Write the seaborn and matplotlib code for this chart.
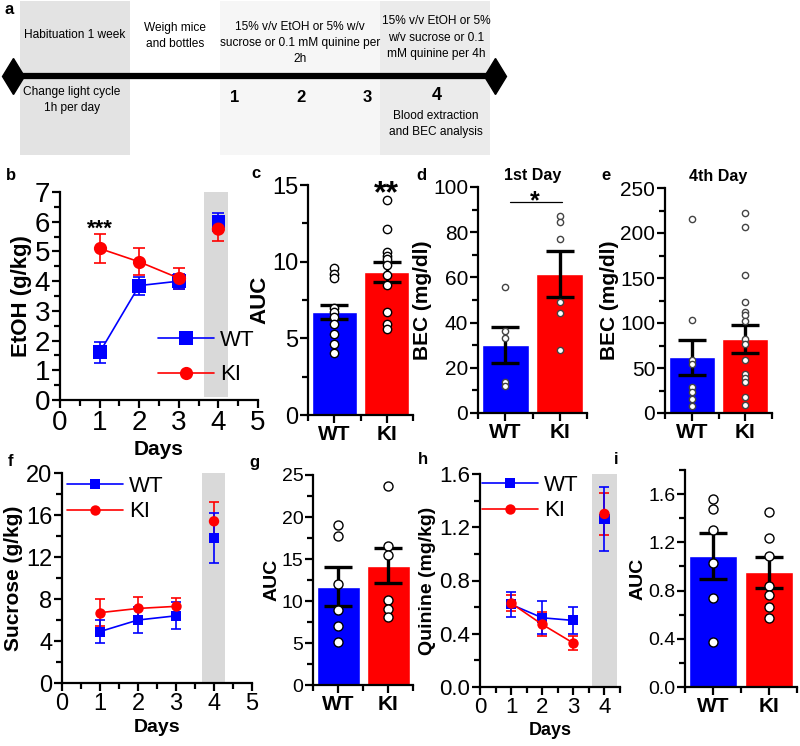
import pandas as pd
import seaborn as sns
import matplotlib
matplotlib.use("Agg")
from matplotlib import pyplot as plt
from matplotlib.lines import Line2D
from matplotlib.patches import Rectangle
from matplotlib.ticker import MultipleLocator, FixedLocator

W, H = 800, 746
BLUE, RED = "#0000ff", "#ff0000"
genotypes = ["WT", "KI"]
days = [1, 2, 3, 4]

# timeline (panel a)
stage_top = ["Habituation 1 week", "Weigh mice\nand bottles",
             "15% v/v EtOH or 5% w/v\nsucrose or 0.1 mM quinine per\n2h",
             "15% v/v EtOH or 5%\nw/v sucrose or 0.1\nmM quinine per 4h"]
stage_bottom = ["Change light cycle\n1h per day", "", "", "Blood extraction\nand BEC analysis"]
day_numbers = ["1", "2", "3", "4"]

# b: EtOH intake per day
etoh_wt = [1.6, 3.85, 4.0, 6.0]
etoh_wt_sem = [0.35, 0.3, 0.25, 0.3]
etoh_ki = [5.1, 4.65, 4.1, 5.75]
etoh_ki_sem = [0.5, 0.45, 0.35, 0.4]

# c: EtOH AUC
etoh_auc_mean = [6.7, 9.3]
etoh_auc_sem = [0.45, 0.65]
etoh_auc_wt = [9.6, 9.2, 8.95, 7.0, 6.7, 6.4, 5.95, 5.3, 4.65, 4.05]
etoh_auc_ki = [14.0, 12.1, 10.6, 10.4, 10.2, 9.8, 9.1, 8.5, 6.7, 5.95, 5.6]

# d: BEC 1st day
bec1_mean = [30, 61.5]
bec1_sem = [8.0, 10.0]
bec1_wt = [55.8, 36.1, 33.2, 13.9, 12.0]
bec1_ki = [87.2, 84.3, 76.9, 49.0, 44.3, 28.0]

# e: BEC 4th day
bec4_mean = [62, 82]
bec4_sem = [19.5, 15.5]
bec4_wt = [216, 103, 59, 55, 28.5, 23.7, 15.6, 7.8]
bec4_ki = [222, 207, 153, 123, 112.6, 109, 102.5, 82, 76.7, 59, 43, 39, 35, 17.4, 8.9]

# f: sucrose intake per day
suc_wt = [4.9, 6.0, 6.4, 13.8]
suc_wt_sem = [1.1, 1.2, 1.3, 2.4]
suc_ki = [6.7, 7.1, 7.3, 15.4]
suc_ki_sem = [1.3, 1.1, 0.8, 1.8]

# g: sucrose AUC
suc_auc_mean = [11.7, 14.2]
suc_auc_sem = [2.35, 2.1]
suc_auc_wt = [19.0, 17.7, 12.0, 8.9, 7.0, 5.1]
suc_auc_ki = [23.7, 16.5, 15.5, 10.1, 9.1, 8.1]

# h: quinine intake per day
qui_wt = [0.62, 0.52, 0.50, 1.26]
qui_wt_sem = [0.095, 0.125, 0.10, 0.24]
qui_ki = [0.63, 0.47, 0.33, 1.30]
qui_ki_sem = [0.06, 0.09, 0.055, 0.16]

# i: quinine AUC
qui_auc_mean = [1.09, 0.95]
qui_auc_sem = [0.19, 0.125]
qui_auc_wt = [1.56, 1.48, 1.30, 1.03, 0.74, 0.37]
qui_auc_ki = [1.45, 1.24, 1.09, 0.84, 0.76, 0.66, 0.57]

sns.set_style("ticks", {"axes.edgecolor": "black", "xtick.color": "black", "ytick.color": "black",
                        "text.color": "black", "axes.labelcolor": "black"})
plt.rcParams["font.family"] = ["Liberation Sans", "DejaVu Sans"]

pal = {"WT": BLUE, "KI": RED}
mk = {"WT": "s", "KI": "o"}

fig = plt.figure(figsize=(W / 100, H / 100), dpi=100)
bg = fig.add_axes([0, 0, 1, 1], zorder=-5)
bg.set_xlim(0, W)
bg.set_ylim(H, 0)
bg.axis("off")


def px_axes(x0, y0, x1, y1):
    return fig.add_axes([x0 / W, 1 - y1 / H, (x1 - x0) / W, (y1 - y0) / H])


def style(ax, tick_fs):
    sns.despine(ax=ax)
    for s in ("left", "bottom"):
        ax.spines[s].set_linewidth(1.6)
    ax.tick_params(which="major", direction="out", length=6, width=1.6, labelsize=tick_fs, pad=1)
    ax.tick_params(which="minor", direction="out", length=4, width=1.6)


# ---- panel a: timeline
for x0, x1, c in [(20, 130, "#e3e3e3"), (220, 380, "#f6f6f6"), (380, 490, "#ebebeb")]:
    bg.add_patch(Rectangle((x0, 1), x1 - x0, 154, color=c, lw=0))
bg.plot([13, 495], [76, 76], color="black", lw=4.5, solid_capstyle="butt")
bg.plot([13, 495], [76, 76], ls="none", marker="d", ms=18, color="black")
for txt, (x, y) in zip(stage_top, [(75, 35), (175, 36), (300, 43), (436, 38)]):
    bg.text(x, y, txt, ha="center", va="center", fontsize=8.6, linespacing=1.5)
for txt, (x, y) in zip(stage_bottom, [(72, 100), (175, 100), (302, 100), (436, 124)]):
    bg.text(x, y, txt, ha="center", va="center", fontsize=8.6, linespacing=1.5)
for txt, (x, y, fs) in zip(day_numbers, [(235, 97, 12), (301, 97, 12), (367, 97, 12), (437, 95, 13)]):
    bg.text(x, y, txt, ha="center", va="center", fontsize=fs, fontweight="bold")

for letter, x, y in [("a", 9, 10), ("b", 11, 175), ("c", 256, 174), ("d", 421, 175), ("e", 606, 175),
                     ("f", 10, 461), ("g", 254, 463), ("h", 423, 460), ("i", 616, 460)]:
    bg.text(x, y, letter, ha="center", va="center", fontsize=12, fontweight="bold")


def line_panel(rect, wt, wt_sem, ki, ki_sem, ytop, ymaj, xmax, band, ms, cap,
               tick_fs, lab_fs, ylabel, leg_xy, leg_fs, leg_sp):
    ax = px_axes(*rect)
    ax.fill_between([band[0], band[1]], band[2], band[3], color="#d9d9d9", lw=0, zorder=0)
    df = pd.DataFrame({"Days": days * 2, "val": wt + ki, "Genotype": ["WT"] * 4 + ["KI"] * 4})
    for vals, sem, col in ((ki, ki_sem, RED), (wt, wt_sem, BLUE)):
        ax.errorbar(days, vals, yerr=sem, fmt="none", ecolor=col, elinewidth=1.2,
                    capsize=cap, capthick=1.2, zorder=2)
    sns.lineplot(data=df[df["Days"] < 4], x="Days", y="val", hue="Genotype", style="Genotype",
                 hue_order=genotypes, style_order=genotypes, palette=pal, markers=mk, dashes=False,
                 markersize=ms, markeredgewidth=0, linewidth=1.2, legend=False, ax=ax, zorder=3)
    sns.scatterplot(data=df[df["Days"] == 4], x="Days", y="val", hue="Genotype", style="Genotype",
                    hue_order=genotypes, style_order=genotypes, palette=pal, markers=mk,
                    s=ms ** 2, linewidth=0, legend=False, ax=ax, zorder=3)
    ax.set_xlim(0, xmax)
    ax.set_ylim(0, ytop)
    ax.xaxis.set_major_locator(MultipleLocator(1))
    ax.xaxis.set_minor_locator(MultipleLocator(0.5))
    ax.yaxis.set_major_locator(MultipleLocator(ymaj))
    ax.yaxis.set_minor_locator(MultipleLocator(ymaj / 2))
    style(ax, tick_fs)
    ax.set_xlabel("Days", fontsize=lab_fs - 1, fontweight="bold", labelpad=3)
    ax.set_ylabel(ylabel, fontsize=lab_fs, fontweight="bold", labelpad=2)
    handles = [Line2D([], [], color=pal[g], marker=mk[g], ms=ms, mew=0, lw=1.2) for g in genotypes]
    ax.legend(handles, genotypes, loc="upper left", bbox_to_anchor=(leg_xy[0] / W, 1 - leg_xy[1] / H),
              bbox_transform=fig.transFigure, frameon=False, fontsize=leg_fs, handlelength=2.5,
              handletextpad=0.3, labelspacing=leg_sp, borderpad=0, borderaxespad=0)
    return ax


def bar_panel(rect, means, sems, wt_pts, ki_pts, ytop, ymaj, ymin_step, tick_fs, lab_fs, ylabel,
              pt_size, pt_edge, cap):
    ax = px_axes(*rect)
    sns.barplot(x=genotypes, y=means, hue=genotypes, palette=[BLUE, RED], saturation=1, width=0.86,
                errorbar=None, legend=False, ax=ax, zorder=1)
    ax.errorbar([0, 1], means, yerr=sems, fmt="none", ecolor="black", elinewidth=2.4,
                capsize=cap, capthick=2.4, zorder=3)
    pts = pd.DataFrame({"g": ["WT"] * len(wt_pts) + ["KI"] * len(ki_pts), "v": wt_pts + ki_pts})
    sns.stripplot(data=pts, x="g", y="v", order=genotypes, jitter=False, color="white",
                  edgecolor=pt_edge, linewidth=1, size=pt_size, zorder=4, ax=ax)
    ax.set_xlim(-0.5, 1.5)
    ax.set_ylim(0, ytop)
    ax.yaxis.set_major_locator(MultipleLocator(ymaj))
    ax.yaxis.set_minor_locator(MultipleLocator(ymin_step))
    ax.xaxis.set_minor_locator(FixedLocator([-0.5, 0.5, 1.5]))
    style(ax, tick_fs)
    ax.set_xticks([0, 1])
    ax.set_xticklabels(genotypes, fontsize=15, fontweight="bold")
    ax.set_xlabel("")
    ax.set_ylabel(ylabel, fontsize=lab_fs, fontweight="bold", labelpad=1)
    return ax


ax_b = line_panel((60, 192, 258, 400), etoh_wt, etoh_wt_sem, etoh_ki, etoh_ki_sem, 7, 1, 5,
                  (3.64, 4.24, 0.1, 7), 9.5, 4.5, 20, 16, "EtOH (g/kg)", (158, 330), 16, 0.6)
ax_b.text(1, 5.55, "***", ha="center", va="baseline", fontsize=16, fontweight="bold")

ax_c = bar_panel((308, 185, 413, 415), etoh_auc_mean, etoh_auc_sem, etoh_auc_wt, etoh_auc_ki,
                 15, 5, 2.5, 17, 16, "AUC", 6, "black", 10)
ax_c.text(1, 13.9, "**", ha="center", va="baseline", fontsize=23, fontweight="bold", clip_on=False)

ax_d = bar_panel((478, 187, 587, 413), bec1_mean, bec1_sem, bec1_wt, bec1_ki,
                 100, 20, 10, 15, 15, "BEC (mg/dl)", 4.5, "#444444", 10)
ax_d.plot([0.08, 1.04], [93.3, 93.3], color="black", lw=0.9, clip_on=False)
ax_d.text(0.55, 90.4, "*", ha="center", va="baseline", fontsize=18, fontweight="bold", clip_on=False)
ax_d.set_title("1st Day", fontsize=11.5, fontweight="bold", pad=5)

ax_e = bar_panel((665, 188, 772, 413), bec4_mean, bec4_sem, bec4_wt, bec4_ki,
                 250, 50, 25, 15, 15, "BEC (mg/dl)", 4.5, "#444444", 10)
ax_e.set_title("4th Day", fontsize=11.5, fontweight="bold", pad=5)

ax_f = line_panel((62, 473, 252, 683), suc_wt, suc_wt_sem, suc_ki, suc_ki_sem, 20, 4, 5,
                  (3.68, 4.3, 0, 20.3), 7.5, 3.5, 17, 15, "Sucrose (g/kg)", (67, 476), 16, 0.2)

ax_g = bar_panel((313, 475, 413, 685), suc_auc_mean, suc_auc_sem, suc_auc_wt, suc_auc_ki,
                 25, 5, 2.5, 14, 14, "AUC", 6.5, "black", 10)

ax_h = line_panel((480, 474, 620, 687), qui_wt, qui_wt_sem, qui_ki, qui_ki_sem, 1.6, 0.4, 4.5,
                  (3.6, 4.4, 0, 1.6), 7.5, 3.5, 16, 14, "Quinine (mg/kg)", (482, 475), 16, 0.2)

ax_i = bar_panel((685, 470, 797, 687), qui_auc_mean, qui_auc_sem, qui_auc_wt, qui_auc_ki,
                 1.8, 0.4, 0.2, 14, 14, "AUC", 6.5, "black", 10)

fig.savefig("out.png", dpi=100)
